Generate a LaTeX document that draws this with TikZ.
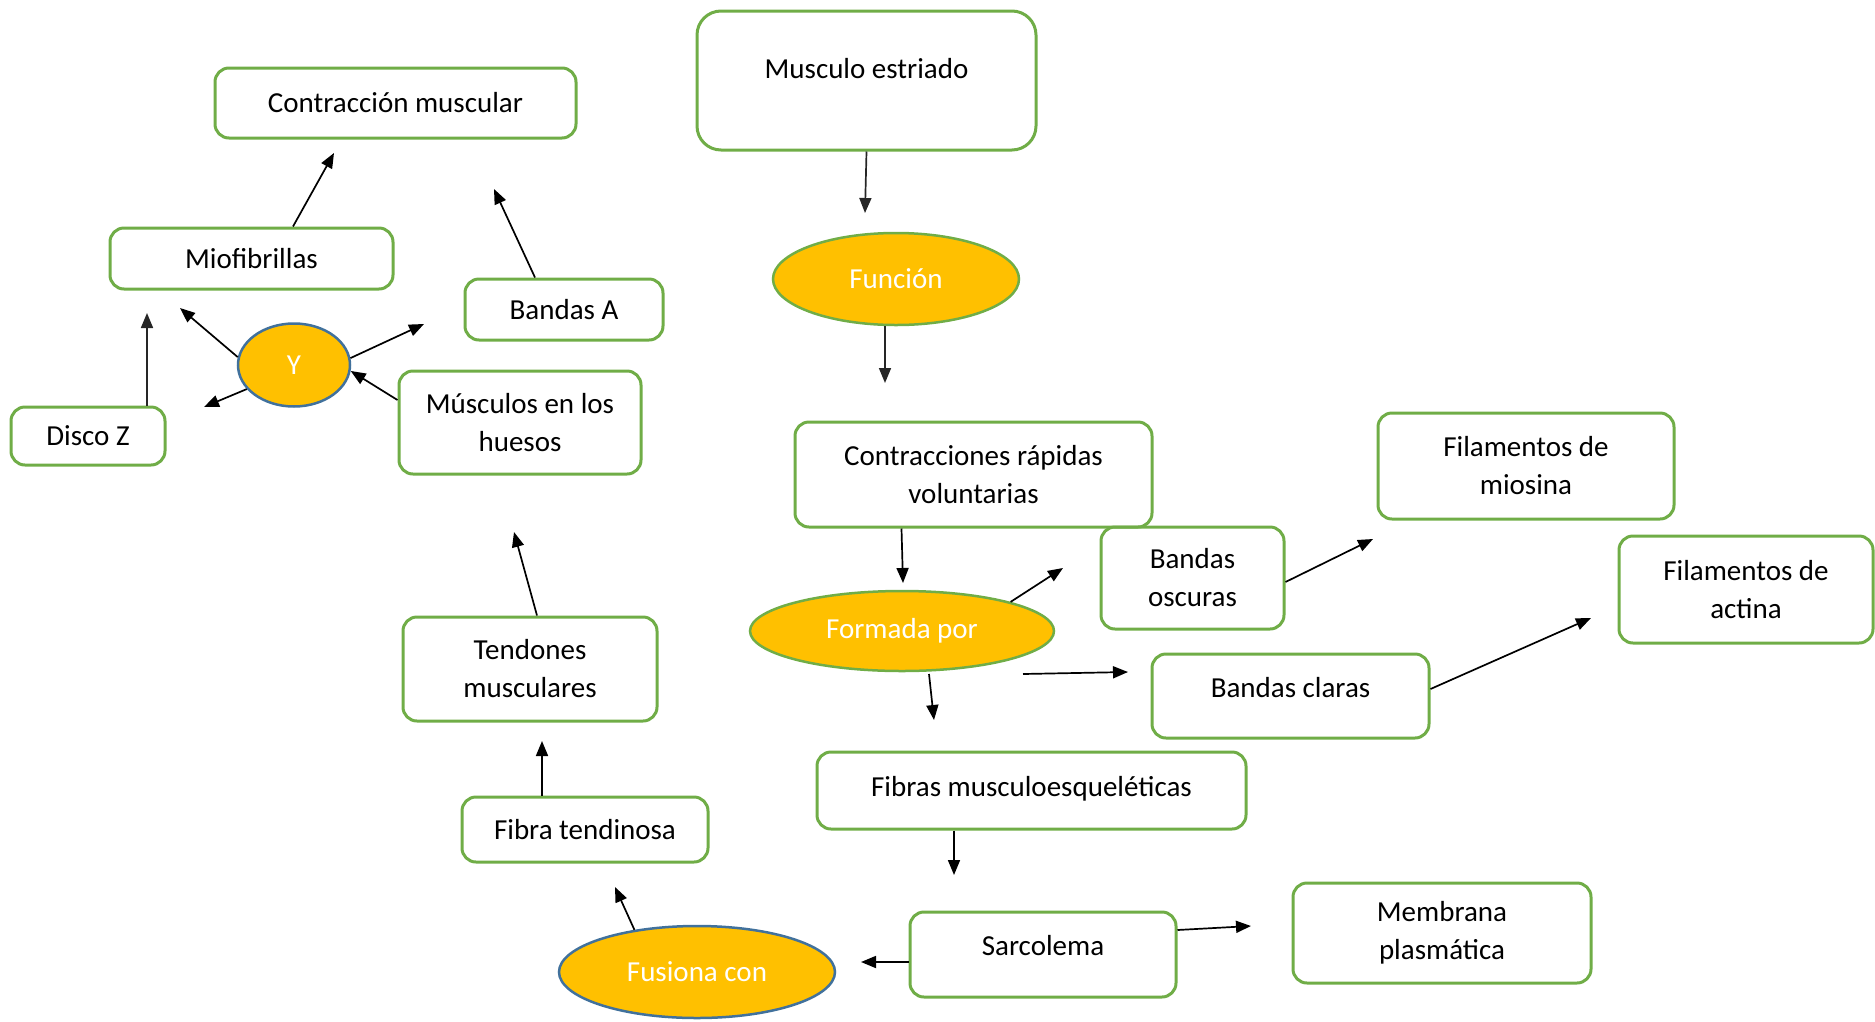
\documentclass[tikz,border=0pt]{standalone}
\usepackage{fontspec}
\setmainfont{Carlito}
\usetikzlibrary{shapes.geometric,arrows.meta,calc}
\definecolor{boxgreen}{HTML}{70AD47}
\definecolor{fillorange}{HTML}{FFC000}
\definecolor{edgeblue}{HTML}{41719C}
\tikzset{
    box/.style={draw=boxgreen, line width=3pt, rounded corners=14pt, align=center, inner sep=0pt},
    oval/.style={ellipse, draw=boxgreen, line width=2.5pt, fill=fillorange, text=white, inner sep=0pt},
    blueoval/.style={oval, draw=edgeblue}
}
\begin{document}
\begin{tikzpicture}[x=1pt, y=-1pt, >={Triangle[length=15pt,width=12pt]}, line width=1.7pt, font=\fontsize{29}{38}\selectfont]
        \useasboundingbox (0,0) rectangle (1875,1021);
        \node [box, minimum width=339pt, minimum height=139pt, rounded corners=24pt] (musculo) at (866.5,80.5) {Musculo estriado\\[-13pt]\mbox{}};
        \node [oval, minimum width=246pt, minimum height=92pt] (funcion) at (896,279) {Función};
        \node [box, minimum width=357pt, minimum height=105pt] (contr) at (973.5,474.5) {Contracciones rápidas\\voluntarias};
        \node [oval, minimum width=304pt, minimum height=80pt] (formada) at (902,631) {Formada por};
        \node [box, minimum width=183pt, minimum height=102pt] (oscuras) at (1192.5,578) {Bandas\\oscuras};
        \node [box, minimum width=296pt, minimum height=106pt] (miosina) at (1526,466) {Filamentos de\\miosina};
        \node [box, minimum width=254pt, minimum height=107pt] (actina) at (1746,589.5) {Filamentos de\\actina};
        \node [box, minimum width=277pt, minimum height=84pt] (claras) at (1290.5,696) {Bandas claras\\[-20pt]\mbox{}};
        \node [box, minimum width=429pt, minimum height=77pt] (fibras) at (1031.5,790.5) {Fibras musculoesqueléticas\\[-30pt]\mbox{}};
        \node [box, minimum width=266pt, minimum height=85pt] (sarcolema) at (1043,954.5) {Sarcolema\\[-20pt]\mbox{}};
        \node [box, minimum width=298pt, minimum height=100pt] (membrana) at (1442,933) {Membrana\\plasmática};
        \node [blueoval, minimum width=276pt, minimum height=92pt] (fusiona) at (697,972) {Fusiona con};
        \node [box, minimum width=246pt, minimum height=65pt] (fibrat) at (585,829.5) {Fibra tendinosa};
        \node [box, minimum width=254pt, minimum height=104pt] (tendones) at (530,669) {Tendones\\musculares};
        \node [box, minimum width=242pt, minimum height=103pt] (musculos) at (520,422.5) {Músculos en los\\huesos};
        \node [blueoval, minimum width=112pt, minimum height=83pt] (y) at (294,365) {Y};
        \node [box, minimum width=154pt, minimum height=58pt] (discoz) at (88,436) {Disco Z};
        \node [box, minimum width=283pt, minimum height=61pt] (miofib) at (251.5,258.5) {Miofibrillas};
        \node [box, minimum width=198pt, minimum height=61pt] (bandasa) at (564,309.5) {Bandas A};
        \node [box, minimum width=361pt, minimum height=70pt] (contraccion) at (395.5,103) {Contracción muscular};
        \coordinate (p1) at (865,213);
        \coordinate (p2) at (885,383);
        \coordinate (p3) at (903,583);
        \coordinate (p4) at (1063,568);
        \coordinate (p5) at (1128,672);
        \coordinate (p6) at (934,720);
        \coordinate (p7) at (1373,539);
        \coordinate (p8) at (1591,618);
        \coordinate (p9) at (954,875);
        \coordinate (p10) at (1251,926);
        \coordinate (p11) at (861,962);
        \coordinate (p12) at (615,887);
        \coordinate (p13) at (542,741);
        \coordinate (p14) at (514,532);
        \coordinate (p15) at (180,308);
        \coordinate (p16) at (424,324);
        \coordinate (p17) at (204,407);
        \coordinate (p18) at (147,313);
        \coordinate (p19) at (334,153);
        \coordinate (p20) at (494,189);
        \draw [->, black!85] (musculo.south) -- (p1);
        \draw [->, black!85] ([xshift=-11pt]funcion.south) -- (p2);
        \draw [->] ([xshift=-72pt]contr.south) -- (p3);
        \draw [->] (formada.15) -- (p4);
        \draw [->] ($(formada)+(121,43)$) -- (p5);
        \draw [->] ($(formada)+(27,43)$) -- (p6);
        \draw [->] ([yshift=-4pt]oscuras.east) -- (p7);
        \draw [->] ([yshift=7pt]claras.east) -- (p8);
        \draw [->] ([xshift=-77.5pt]fibras.south) -- (p9);
        \draw [->] ([yshift=24.5pt]sarcolema.east) -- (p10);
        \draw [->] ([yshift=-7.5pt]sarcolema.west) -- (p11);
        \draw [->] (fusiona.146) -- (p12);
        \draw [->] ([xshift=-43pt]fibrat.north) -- (p13);
        \draw [->] ([xshift=7pt]tendones.north) -- (p14);
        \draw [->] ([yshift=22.5pt]musculos.west) -- (y.-6);
        \draw [->] (y.172) -- (p15);
        \draw [->] (y.7) -- (p16);
        \draw [->] (y.207) -- (p17);
        \draw [->, black!85] ([xshift=59pt]discoz.north) -- (p18);
        \draw [->] ([xshift=41.5pt]miofib.north) -- (p19);
        \draw [->] ([xshift=-29pt]bandasa.north) -- (p20);
\end{tikzpicture}
\end{document}
